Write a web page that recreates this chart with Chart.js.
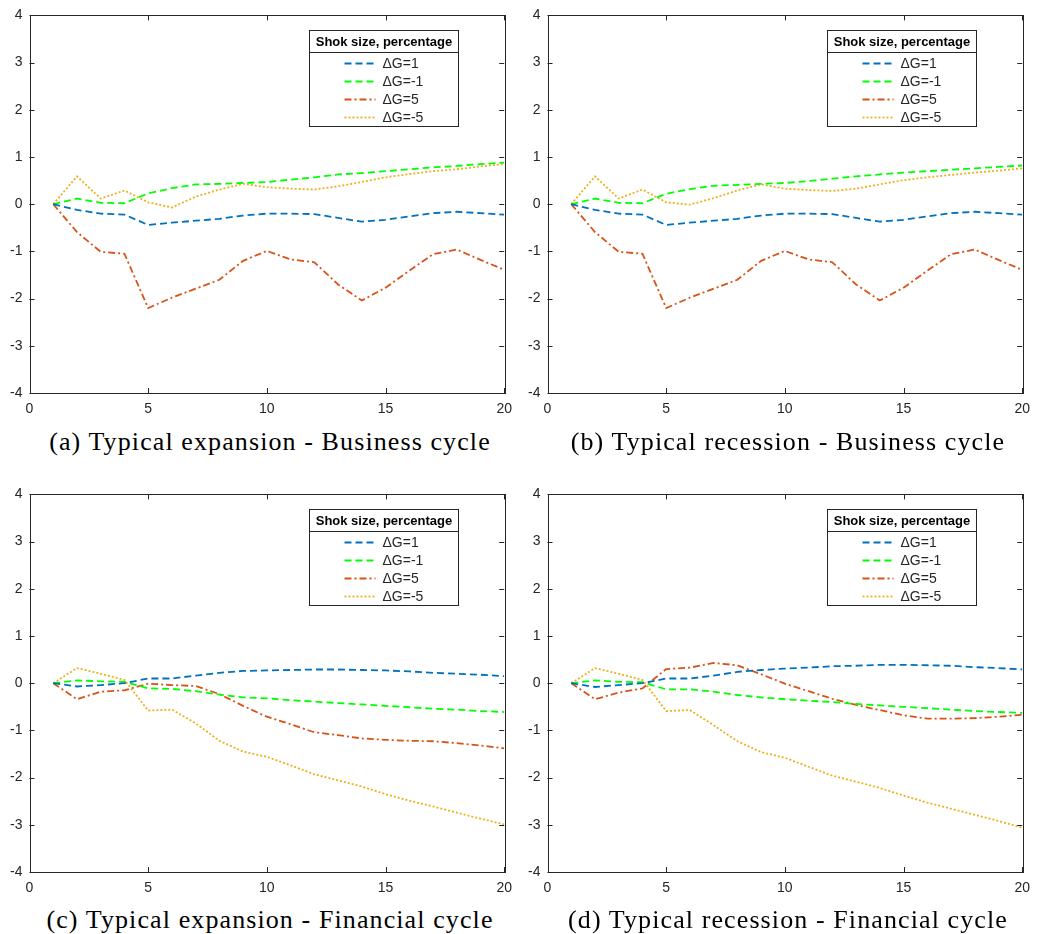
<!DOCTYPE html>
<html>
<head>
<meta charset="utf-8">
<script src="https://cdn.jsdelivr.net/npm/chart.js@4.4.1/dist/chart.umd.min.js"></script>
<style>
    body { margin: 0; background: #fff; width: 1038px; height: 934px; position: relative; overflow: hidden; }
    .panel { position: absolute; width: 520px; height: 420px; }
    .caption { position: absolute; width: 520px; text-align: center; font-family: "Liberation Serif", serif; font-size: 26px; line-height: 30px; letter-spacing: 1.1px; color: #000; white-space: nowrap; }
</style>
</head>
<body>
<div class="panel" style="left:0px;top:0px"><canvas id="graficoA"></canvas></div>
<div class="panel" style="left:518px;top:0px"><canvas id="graficoB"></canvas></div>
<div class="panel" style="left:0px;top:479px"><canvas id="graficoC"></canvas></div>
<div class="panel" style="left:518px;top:479px"><canvas id="graficoD"></canvas></div>
<div class="caption" style="left:10px;top:427px">(a) Typical expansion - Business cycle</div>
<div class="caption" style="left:528px;top:427px">(b) Typical recession - Business cycle</div>
<div class="caption" style="left:10px;top:905px">(c) Typical expansion - Financial cycle</div>
<div class="caption" style="left:528px;top:905px">(d) Typical recession - Financial cycle</div>

<script>
// Horizonte e séries
const periodos = [1, 2, 3, 4, 5, 6, 7, 8, 9, 10, 11, 12, 13, 14, 15, 16, 17, 18, 19, 20];
const rotulos = ['ΔG=1', 'ΔG=-1', 'ΔG=5', 'ΔG=-5'];
const tituloLegenda = 'Shok size, percentage';
const ticksX = [0, 5, 10, 15, 20];
const ticksY = [-4, -3, -2, -1, 0, 1, 2, 3, 4];

// (a) expansão - ciclo de negócios
const expNegG1 = [0, -0.12, -0.20, -0.22, -0.44, -0.39, -0.35, -0.31, -0.24, -0.20, -0.20, -0.21, -0.29, -0.37, -0.33, -0.26, -0.19, -0.16, -0.19, -0.22];
const expNegGm1 = [0, 0.12, 0.03, 0.02, 0.23, 0.34, 0.42, 0.43, 0.45, 0.47, 0.52, 0.57, 0.63, 0.66, 0.70, 0.74, 0.78, 0.81, 0.85, 0.88];
const expNegG5 = [0, -0.59, -1.01, -1.05, -2.20, -1.98, -1.79, -1.60, -1.20, -0.99, -1.17, -1.23, -1.70, -2.04, -1.77, -1.41, -1.06, -0.96, -1.18, -1.39];
const expNegGm5 = [0, 0.59, 0.12, 0.29, 0.04, -0.07, 0.16, 0.31, 0.43, 0.36, 0.33, 0.31, 0.38, 0.47, 0.57, 0.64, 0.70, 0.74, 0.80, 0.85];

// (b) recessão - ciclo de negócios
const recNegG1 = [0, -0.12, -0.20, -0.22, -0.44, -0.39, -0.35, -0.31, -0.24, -0.20, -0.20, -0.21, -0.29, -0.37, -0.33, -0.26, -0.19, -0.16, -0.19, -0.22];
const recNegGm1 = [0, 0.12, 0.03, 0.02, 0.22, 0.32, 0.39, 0.41, 0.43, 0.45, 0.49, 0.54, 0.59, 0.63, 0.67, 0.70, 0.73, 0.76, 0.79, 0.82];
const recNegG5 = [0, -0.59, -1.01, -1.05, -2.20, -1.98, -1.79, -1.60, -1.20, -0.99, -1.17, -1.23, -1.70, -2.04, -1.77, -1.41, -1.06, -0.96, -1.18, -1.39];
const recNegGm5 = [0, 0.59, 0.12, 0.31, 0.04, -0.01, 0.13, 0.29, 0.42, 0.33, 0.30, 0.28, 0.33, 0.42, 0.51, 0.57, 0.62, 0.67, 0.71, 0.76];

// (c) expansão - ciclo financeiro
const expFinG1 = [0, -0.07, -0.04, 0, 0.10, 0.10, 0.16, 0.22, 0.26, 0.27, 0.28, 0.29, 0.29, 0.28, 0.27, 0.25, 0.22, 0.20, 0.18, 0.15];
const expFinGm1 = [0, 0.06, 0.04, 0.03, -0.11, -0.12, -0.17, -0.24, -0.30, -0.32, -0.36, -0.39, -0.42, -0.45, -0.48, -0.51, -0.54, -0.56, -0.59, -0.61];
const expFinG5 = [0, -0.34, -0.18, -0.15, -0.01, -0.04, -0.06, -0.23, -0.48, -0.71, -0.87, -1.04, -1.10, -1.17, -1.20, -1.22, -1.23, -1.27, -1.32, -1.38];
const expFinGm5 = [0, 0.32, 0.20, 0.07, -0.58, -0.56, -0.85, -1.22, -1.45, -1.56, -1.74, -1.93, -2.06, -2.19, -2.35, -2.49, -2.61, -2.74, -2.87, -2.99];

// (d) recessão - ciclo financeiro
const recFinG1 = [0, -0.08, -0.04, 0, 0.10, 0.10, 0.16, 0.24, 0.28, 0.31, 0.33, 0.36, 0.37, 0.39, 0.39, 0.38, 0.37, 0.34, 0.32, 0.29];
const recFinGm1 = [0, 0.06, 0.03, 0.02, -0.13, -0.13, -0.18, -0.25, -0.30, -0.34, -0.37, -0.40, -0.44, -0.47, -0.50, -0.53, -0.56, -0.59, -0.61, -0.63];
const recFinG5 = [0, -0.34, -0.20, -0.11, 0.30, 0.33, 0.43, 0.38, 0.19, -0.01, -0.17, -0.33, -0.46, -0.57, -0.68, -0.75, -0.75, -0.74, -0.71, -0.67];
const recFinGm5 = [0, 0.32, 0.20, 0.07, -0.59, -0.57, -0.89, -1.23, -1.46, -1.58, -1.77, -1.96, -2.09, -2.22, -2.38, -2.53, -2.66, -2.79, -2.92, -3.06];

const cores = ['#0072BD', '#00FF00', '#D95319', '#EDB120'];
const tracos = [[7, 4], [7, 4], [7, 3, 2, 3], [2, 2]];
const corEixo = '#262626';

// 1. Moldura com ticks para dentro (estilo MATLAB) e legenda com título
const pluginMoldura = {
    id: 'moldura',
    afterDraw(chart) {
        const ctx = chart.ctx;
        const a = chart.chartArea;
        const sx = chart.scales.x;
        const sy = chart.scales.y;
        ctx.save();
        ctx.strokeStyle = corEixo;
        ctx.lineWidth = 1;
        ctx.beginPath();
        ticksX.forEach(v => {
            const px = Math.round(sx.getPixelForValue(v)) + 0.5;
            ctx.moveTo(px, a.bottom); ctx.lineTo(px, a.bottom - 5);
            ctx.moveTo(px, a.top); ctx.lineTo(px, a.top + 5);
        });
        ticksY.forEach(v => {
            const py = Math.round(sy.getPixelForValue(v)) + 0.5;
            ctx.moveTo(a.left, py); ctx.lineTo(a.left + 5, py);
            ctx.moveTo(a.right, py); ctx.lineTo(a.right - 5, py);
        });
        ctx.stroke();
        ctx.strokeRect(Math.round(a.left) + 0.5, Math.round(a.top) + 0.5, Math.round(a.right - a.left), Math.round(a.bottom - a.top));

        // legenda
        const w = 149, h = 96;
        const x0 = Math.round(a.right - 195) + 0.5;
        const y0 = Math.round(a.top + 15) + 0.5;
        ctx.fillStyle = '#fff';
        ctx.fillRect(x0, y0, w, h);
        ctx.strokeStyle = corEixo;
        ctx.strokeRect(x0, y0, w, h);
        ctx.beginPath();
        ctx.moveTo(x0, y0 + 22); ctx.lineTo(x0 + w, y0 + 22);
        ctx.stroke();
        ctx.fillStyle = '#000';
        ctx.font = 'bold 13px "Liberation Sans", Arial, sans-serif';
        ctx.textAlign = 'center';
        ctx.textBaseline = 'middle';
        ctx.fillText(tituloLegenda, x0 + w / 2, y0 + 11.5);
        ctx.font = '14px "Liberation Sans", Arial, sans-serif';
        ctx.textAlign = 'left';
        chart.data.datasets.forEach((ds, i) => {
            const yy = y0 + 33 + i * 18;
            ctx.strokeStyle = ds.borderColor;
            ctx.lineWidth = ds.borderWidth;
            ctx.setLineDash(ds.borderDash);
            ctx.beginPath();
            ctx.moveTo(x0 + 35, yy); ctx.lineTo(x0 + 66, yy);
            ctx.stroke();
            ctx.setLineDash([]);
            ctx.fillStyle = corEixo;
            ctx.fillText(ds.label, x0 + 73, yy + 0.5);
        });
        ctx.restore();
    }
};

// 2. Criar um painel
function desenharPainel(id, series) {
    const datasets = series.map((valores, i) => ({
        label: rotulos[i],
        data: periodos.map((p, k) => ({ x: p, y: valores[k] })),
        borderColor: cores[i],
        borderWidth: 1.8,
        borderDash: tracos[i],
        pointRadius: 0,
        tension: 0,
        fill: false
    }));

    new Chart(document.getElementById(id), {
        type: 'line',
        data: { datasets: datasets },
        options: {
            responsive: true,
            maintainAspectRatio: false,
            animation: false,
            layout: { padding: { top: 14, right: 10, left: 0, bottom: 0 } },
            plugins: { legend: { display: false }, tooltip: { enabled: false } },
            scales: {
                x: {
                    type: 'linear', min: 0, max: 20,
                    afterFit: s => { s.height = 27; },
                    afterBuildTicks: s => { s.ticks = ticksX.map(v => ({ value: v })); },
                    grid: { display: false, drawTicks: false },
                    border: { display: false },
                    ticks: { padding: 8, color: corEixo, font: { family: '"Liberation Sans", Arial, sans-serif', size: 14 }, maxRotation: 0 }
                },
                y: {
                    type: 'linear', min: -4, max: 4,
                    afterFit: s => { s.width = 29.5; },
                    afterBuildTicks: s => { s.ticks = ticksY.map(v => ({ value: v })); },
                    grid: { display: false, drawTicks: false },
                    border: { display: false },
                    ticks: { padding: 7, color: corEixo, font: { family: '"Liberation Sans", Arial, sans-serif', size: 14 } }
                }
            }
        },
        plugins: [pluginMoldura]
    });
}

desenharPainel('graficoA', [expNegG1, expNegGm1, expNegG5, expNegGm5]);
desenharPainel('graficoB', [recNegG1, recNegGm1, recNegG5, recNegGm5]);
desenharPainel('graficoC', [expFinG1, expFinGm1, expFinG5, expFinGm5]);
desenharPainel('graficoD', [recFinG1, recFinGm1, recFinG5, recFinGm5]);
</script>
</body>
</html>
